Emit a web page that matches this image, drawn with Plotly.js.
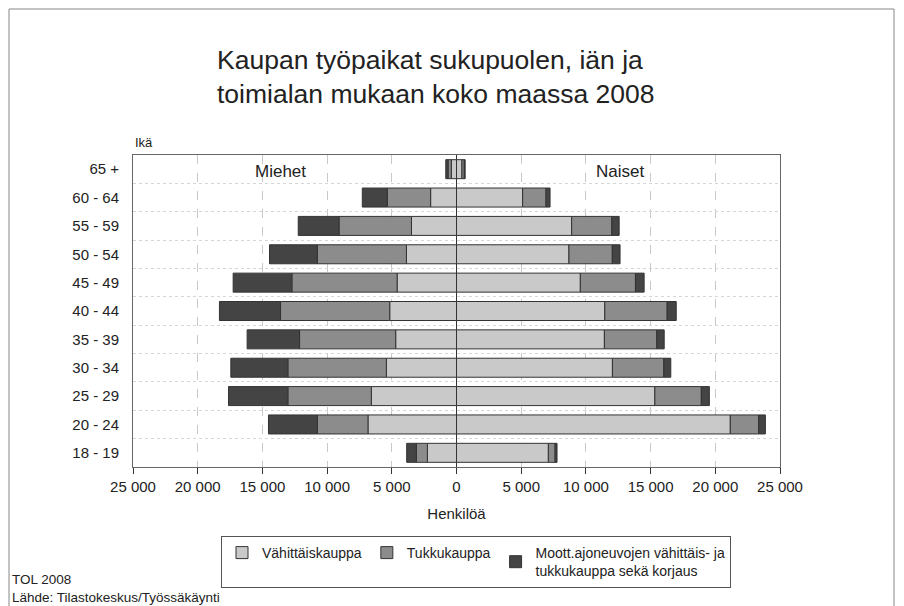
<!DOCTYPE html>
<html>
<head>
<meta charset="utf-8">
<script src="https://cdn.plot.ly/plotly-3.0.1.min.js"></script>
<style>html,body{margin:0;padding:0;background:#fff;}#chart{width:904px;height:606px;}</style>
</head>
<body>
<div id="chart"></div>
<script>
var categories = ["18 - 19","20 - 24","25 - 29","30 - 34","35 - 39","40 - 44","45 - 49","50 - 54","55 - 59","60 - 64","65 +"];
var menRetail      = [2250, 6840, 6580, 5420, 4700, 5160, 4590, 3870, 3480, 2000, 400];
var menWholesale   = [850, 3920, 6450, 7610, 7430, 8440, 8130, 6890, 5600, 3350, 250];
var menMotor       = [750, 3770, 4590, 4410, 4050, 4720, 4540, 3690, 3150, 1930, 180];
var womenRetail    = [7100, 21160, 15330, 12050, 11430, 11460, 9570, 8690, 8900, 5110, 420];
var womenWholesale = [520, 2190, 3590, 3970, 4050, 4820, 4260, 3350, 3100, 1810, 180];
var womenMotor     = [150, 520, 620, 540, 570, 700, 670, 600, 570, 310, 70];
var seriesNames = ["Vähittäiskauppa", "Tukkukauppa", "Moott.ajoneuvojen vähittäis- ja<br>tukkukauppa sekä korjaus"];
var tickVals  = [-25000,-20000,-15000,-10000,-5000,0,5000,10000,15000,20000,25000];
var tickTexts = ["25 000","20 000","15 000","10 000","5 000","0","5 000","10 000","15 000","20 000","25 000"];

var colors = ["#c9c9c9", "#8c8c8c", "#444444"];
var menSets = [menRetail, menWholesale, menMotor];
var womenSets = [womenRetail, womenWholesale, womenMotor];
var traces = [];
for (var i = 0; i < 3; i++) {
  traces.push({
    type: "bar", orientation: "h", y: categories,
    x: menSets[i].map(function(v){return -v;}),
    name: seriesNames[i], legendgroup: "g" + i, showlegend: true,
    marker: {color: colors[i], line: {color: "#333", width: 1}}
  });
  traces.push({
    type: "bar", orientation: "h", y: categories,
    x: womenSets[i],
    name: seriesNames[i], legendgroup: "g" + i, showlegend: false,
    marker: {color: colors[i], line: {color: "#333", width: 1}}
  });
}

var font = "Liberation Sans, Arial, sans-serif";
var L = 133, R = 124, T = 155, B = 139, W = 904, H = 606;
var pw = W - L - R, ph = H - T - B;
function footY(py) { return -(py - (H - B)) / ph; }
var layout = {
  width: W, height: H,
  paper_bgcolor: "#fff", plot_bgcolor: "#fff",
  margin: {l: L, r: R, t: T, b: B},
  font: {family: font, color: "#222", size: 14},
  title: {
    text: "Kaupan työpaikat sukupuolen, iän ja<br>toimialan mukaan koko maassa 2008",
    font: {family: font, size: 26.5, color: "#222"},
    xref: "container", x: 217/W, xanchor: "left",
    yref: "container", y: 1 - 69/H, yanchor: "top"
  },
  barmode: "relative",
  bargap: 0.33,
  showlegend: true,
  legend: {
    orientation: "h",
    xref: "container", yref: "container",
    x: 221/W, xanchor: "left",
    y: 1 - 536/H, yanchor: "top",
    bordercolor: "#555", borderwidth: 1,
    font: {family: font, size: 14, color: "#222"},
    traceorder: "normal",
    itemwidth: 30,
    tracegroupgap: 0
  },
  xaxis: {
    range: [-25000, 25000],
    tickvals: tickVals, ticktext: tickTexts,
    ticks: "outside", ticklen: 6, tickcolor: "#333",
    tickfont: {family: font, size: 15, color: "#222"},
    showline: true, mirror: true, linecolor: "#666", linewidth: 1,
    showgrid: true, gridcolor: "#c8c8c8", griddash: "dash", gridwidth: 1,
    zeroline: true, zerolinecolor: "#333", zerolinewidth: 1.5,
    title: {text: "Henkilöä", font: {family: font, size: 15, color: "#222"}, standoff: 14},
    fixedrange: true
  },
  yaxis: {
    type: "category",
    tickson: "boundaries", ticks: "",
    showgrid: true, gridcolor: "#d6d6d6", griddash: "dot", gridwidth: 1,
    tickfont: {family: font, size: 15, color: "#222"},
    ticklabelstandoff: 10,
    showline: true, mirror: true, linecolor: "#666", linewidth: 1,
    fixedrange: true
  },
  annotations: [
    {text: "Ikä", xref: "paper", yref: "paper", x: 0, y: 1, xanchor: "left", yanchor: "bottom",
     yshift: 3, showarrow: false, font: {family: font, size: 13, color: "#222"}},
    {text: "Miehet", xref: "x", yref: "paper", x: -13600, y: 1, yanchor: "middle", yshift: -16,
     showarrow: false, font: {family: font, size: 17, color: "#222"}},
    {text: "Naiset", xref: "x", yref: "paper", x: 12650, y: 1, yanchor: "middle", yshift: -16,
     showarrow: false, font: {family: font, size: 17, color: "#222"}},
    {text: "TOL 2008<br>Lähde: Tilastokeskus/Työssäkäynti", xref: "paper", yref: "paper",
     x: (11 - L)/pw, y: footY(606), xanchor: "left", yanchor: "bottom", align: "left",
     showarrow: false, borderpad: 0,
     font: {family: font, size: 13.5, color: "#222"}}
  ],
  shapes: [
    {type: "rect", xref: "paper", yref: "paper", x0: -124/pw, x1: 1 + 114/pw,
     y0: -150/ph, y1: 1 + 146/ph, line: {color: "#888", width: 1}, layer: "below"}
  ]
};

Plotly.newPlot("chart", traces, layout, {displayModeBar: false, staticPlot: true});
</script>
</body>
</html>
